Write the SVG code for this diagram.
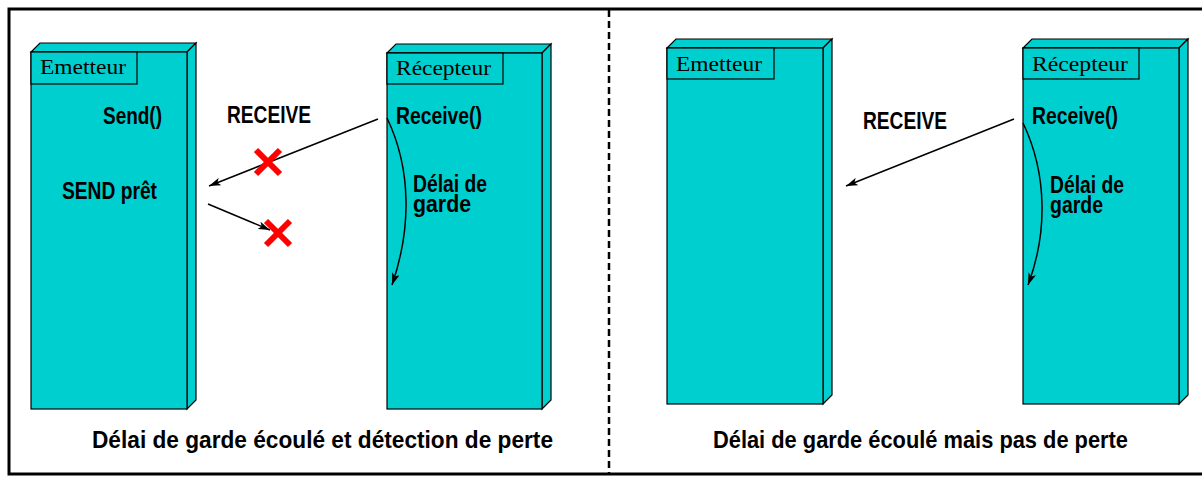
<svg xmlns="http://www.w3.org/2000/svg" width="1202" height="477" viewBox="0 0 1202 477">
<style>
.face{fill:#00CFCF;stroke:#000;stroke-width:1.2}
.tab{fill:#00CFCF;stroke:#000;stroke-width:1.2}
.ser{font-family:"Liberation Serif","Times New Roman",serif;font-size:21px;fill:#000}
.lbl{font-family:"Liberation Sans",Arial,sans-serif;font-weight:bold;font-size:23px;fill:#000}
.cap{font-family:"Liberation Sans",Arial,sans-serif;font-weight:bold;font-size:24px;fill:#000}
.msg{stroke:#000;stroke-width:1.5;fill:none}
.x{stroke:#FF0000;stroke-width:6;stroke-linecap:butt}
</style>
<defs>
<marker id="ah" viewBox="0 0 12 8" refX="12" refY="4" markerWidth="12" markerHeight="8" markerUnits="userSpaceOnUse" orient="auto">
<path d="M0,0 L12,4 L0,8 L3,4 Z" fill="#000"/>
</marker>
</defs>
<rect x="0" y="0" width="1202" height="477" fill="#fff"/>
<rect x="9" y="9" width="1200" height="465" fill="none" stroke="#000" stroke-width="3"/>
<line x1="609" y1="10" x2="609" y2="473" stroke="#000" stroke-width="2.5" stroke-dasharray="7,4"/>

<g id="emetteur-left">
<polygon class="face" points="31,52 40,43 196,43 187,52"/>
<polygon class="face" points="187,52 196,43 196,400 187,409"/>
<rect class="face" x="31" y="52" width="156" height="357"/>
<rect class="tab" x="31" y="52" width="106" height="32"/>
<text class="ser" x="40" y="74" textLength="86" lengthAdjust="spacingAndGlyphs">Emetteur</text>
<text class="lbl" x="103" y="124" textLength="59" lengthAdjust="spacingAndGlyphs">Send()</text>
<text class="lbl" x="62" y="199" textLength="95" lengthAdjust="spacingAndGlyphs">SEND prêt</text>
</g>

<g id="recepteur-left">
<polygon class="face" points="387,53 396,44 551,44 542,53"/>
<polygon class="face" points="542,53 551,44 551,400 542,409"/>
<rect class="face" x="387" y="53" width="155" height="356"/>
<rect class="tab" x="387" y="53" width="116" height="31"/>
<text class="ser" x="396" y="75" textLength="95" lengthAdjust="spacingAndGlyphs">Récepteur</text>
<text class="lbl" x="396" y="124" textLength="86" lengthAdjust="spacingAndGlyphs">Receive()</text>
<text class="lbl"><tspan x="413" y="192" textLength="74" lengthAdjust="spacingAndGlyphs">Délai de</tspan><tspan x="413" y="212" textLength="58" lengthAdjust="spacingAndGlyphs">garde</tspan></text>
</g>

<g id="emetteur-right">
<polygon class="face" points="667,48 676,39 832,39 823,48"/>
<polygon class="face" points="823,48 832,39 832,395 823,404"/>
<rect class="face" x="667" y="48" width="156" height="356"/>
<rect class="tab" x="667" y="48" width="107" height="31"/>
<text class="ser" x="676" y="71" textLength="86" lengthAdjust="spacingAndGlyphs">Emetteur</text>
</g>

<g id="recepteur-right">
<polygon class="face" points="1023,48 1032,39 1188,39 1179,48"/>
<polygon class="face" points="1179,48 1188,39 1188,395 1179,404"/>
<rect class="face" x="1023" y="48" width="156" height="356"/>
<rect class="tab" x="1023" y="48" width="116" height="31"/>
<text class="ser" x="1032" y="71" textLength="96" lengthAdjust="spacingAndGlyphs">Récepteur</text>
<text class="lbl" x="1032" y="124" textLength="86" lengthAdjust="spacingAndGlyphs">Receive()</text>
<text class="lbl"><tspan x="1050" y="193" textLength="74" lengthAdjust="spacingAndGlyphs">Délai de</tspan><tspan x="1050" y="213" textLength="53" lengthAdjust="spacingAndGlyphs">garde</tspan></text>
</g>

<g id="connectors">
<line class="msg" x1="378" y1="119" x2="209" y2="186" marker-end="url(#ah)"/>
<line class="msg" x1="208" y1="204" x2="270" y2="230" marker-end="url(#ah)"/>
<path class="msg" d="M387,118 C412,170 411,230 392,285" marker-end="url(#ah)"/>
<line class="msg" x1="1014" y1="119" x2="846" y2="186" marker-end="url(#ah)"/>
<path class="msg" d="M1023,123 C1048,175 1047,235 1028,285" marker-end="url(#ah)"/>
</g>

<g id="loss-marks">
<line class="x" x1="256" y1="150" x2="280" y2="174"/>
<line class="x" x1="280" y1="150" x2="256" y2="174"/>
<line class="x" x1="266" y1="221" x2="290" y2="245"/>
<line class="x" x1="290" y1="221" x2="266" y2="245"/>
</g>

<g id="labels">
<text class="lbl" x="227" y="123" textLength="84" lengthAdjust="spacingAndGlyphs">RECEIVE</text>
<text class="lbl" x="863" y="129" textLength="84" lengthAdjust="spacingAndGlyphs">RECEIVE</text>
<text class="cap" x="92" y="448" textLength="461" lengthAdjust="spacingAndGlyphs">Délai de garde écoulé et détection de perte</text>
<text class="cap" x="713" y="448" textLength="415" lengthAdjust="spacingAndGlyphs">Délai de garde écoulé mais pas de perte</text>
</g>
</svg>
